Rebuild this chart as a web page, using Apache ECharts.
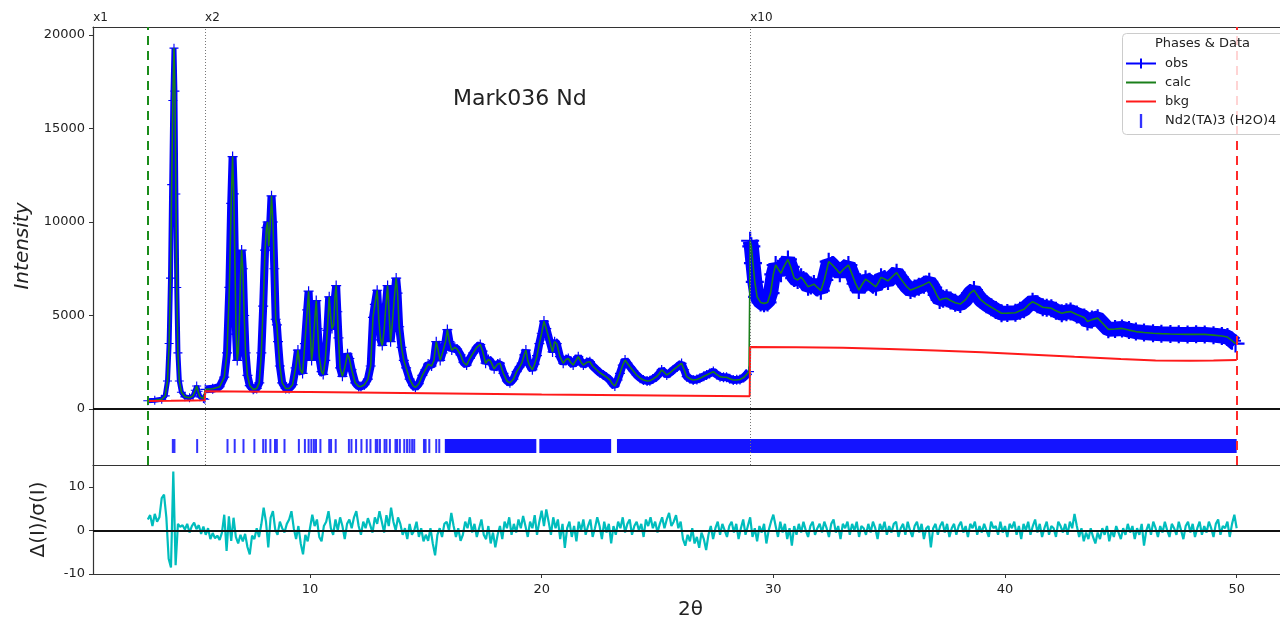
<!DOCTYPE html>
<html>
<head>
<meta charset="utf-8">
<script src="https://cdn.jsdelivr.net/npm/echarts@6/dist/echarts.min.js"></script>
<style>
html, body { margin: 0; padding: 0; background: #fff; overflow: hidden; }
#main { width: 1280px; height: 621px; }
</style>
</head>
<body>
<div id="main"></div>
<script>
// profile, intensities already multiplied (x1 / x2 / x10)
var obsPts = [
    [3.00,440],[3.30,470],[3.60,520],[3.75,700],[3.85,1500],[3.92,3500],[3.98,7000],[4.03,12000],[4.08,16500],[4.13,19300],
    [4.17,17000],[4.21,11500],[4.25,6500],[4.30,3000],[4.36,1500],[4.45,900],[4.60,650],[4.80,600],[4.95,700],[5.05,1000],
    [5.11,1230],[5.17,950],[5.25,650],[5.40,560],[5.46,520],
    [5.48,1050],[5.80,1080],[6.10,1190],[6.30,1700],[6.42,3000],[6.52,6500],[6.60,11000],[6.66,13500],[6.71,11500],[6.76,7800],
    [6.81,4000],[6.86,2600],[6.90,3000],[6.95,4500],[7.00,7000],[7.05,8500],[7.10,7500],[7.16,5000],[7.22,3000],[7.30,1800],
    [7.40,1250],[7.55,1050],[7.70,1100],[7.81,1400],[7.90,3000],[7.98,5500],[8.06,8500],[8.12,9700],[8.17,10000],[8.22,8700],
    [8.28,9800],[8.34,11400],[8.40,10000],[8.46,7500],[8.52,4800],[8.57,4500],[8.62,3600],[8.70,2300],[8.80,1400],[8.95,1100],
    [9.10,1100],[9.25,1300],[9.38,2200],[9.48,3150],[9.58,2100],[9.68,1900],[9.78,3500],[9.88,5300],[9.94,6300],[10.00,4500],
    [10.07,2600],[10.13,3300],[10.19,4500],[10.27,5800],[10.33,4300],[10.40,2800],[10.50,2000],[10.57,1850],[10.66,2600],[10.75,4200],
    [10.83,6000],[10.89,5000],[10.95,4300],[11.02,4500],[11.08,6000],[11.13,6600],[11.18,5200],[11.23,3800],[11.30,2200],[11.40,1750],
    [11.50,2200],[11.62,2950],[11.70,2700],[11.80,2100],[11.95,1400],[12.10,1200],[12.20,1200],[12.35,1300],[12.50,1600],[12.62,2300],
    [12.72,4900],[12.80,5600],[12.90,6350],[12.97,4800],[13.05,3700],[13.12,3400],[13.20,4200],[13.28,5600],[13.35,6600],[13.42,5000],
    [13.48,3600],[13.55,4500],[13.63,5800],[13.72,7000],[13.78,6200],[13.85,4400],[13.95,3300],[14.05,2600],[14.15,2200],[14.30,1600],
    [14.45,1250],[14.55,1150],[14.70,1350],[14.85,1800],[14.98,2100],[15.10,2400],[15.25,2300],[15.35,2600],[15.45,3600],[15.52,3200],
    [15.62,2600],[15.72,3000],[15.85,3600],[15.93,4250],[16.02,3600],[16.12,3150],[16.25,3300],[16.35,3200],[16.50,2900],[16.62,2500],
    [16.76,2350],[16.90,2700],[17.05,3000],[17.20,3300],[17.35,3450],[17.45,3100],[17.58,2450],[17.70,2650],[17.80,2550],[17.95,2150],
    [18.10,2400],[18.20,2450],[18.35,1900],[18.50,1500],[18.63,1400],[18.78,1600],[18.92,2000],[19.05,2250],[19.14,2450],[19.25,2900],
    [19.32,3150],[19.40,2600],[19.47,2350],[19.60,2100],[19.70,2400],[19.80,2850],[19.90,3500],[20.00,4050],[20.10,4700],[20.20,4300],
    [20.33,3700],[20.47,3050],[20.56,3600],[20.65,3500],[20.79,2800],[20.93,2450],[21.05,2650],[21.15,2700],[21.25,2500],[21.36,2350],
    [21.48,2600],[21.58,2800],[21.70,2500],[21.80,2350],[21.95,2500],[22.08,2530],[22.20,2300],[22.37,2100],[22.50,1950],[22.66,1820],
    [22.80,1700],[22.95,1550],[23.05,1350],[23.16,1230],[23.28,1550],[23.38,1910],[23.50,2350],[23.60,2620],[23.70,2450],[23.81,2260],
    [23.95,2050],[24.10,1820],[24.25,1650],[24.39,1550],[24.55,1500],[24.67,1510],[24.80,1600],[24.96,1730],[25.08,1900],[25.18,2090],
    [25.30,1950],[25.40,1820],[25.55,1950],[25.68,2090],[25.85,2250],[26.04,2440],[26.15,2100],[26.26,1730],[26.40,1620],[26.54,1550],
    [26.70,1580],[26.83,1640],[27.00,1750],[27.12,1820],[27.25,1900],[27.41,2000],[27.55,1850],[27.70,1730],[27.85,1700],[27.98,1700],
    [28.12,1620],[28.27,1550],[28.42,1560],[28.56,1580],[28.72,1680],[28.85,1850],[28.95,2000],
    [29.00,9000],[29.05,8700],[29.12,7800],[29.20,6800],[29.30,6000],[29.45,5700],[29.60,5650],[29.75,5700],[29.88,6200],[30.00,7200],
    [30.10,7700],[30.20,7500],[30.33,7260],[30.45,7600],[30.63,8000],[30.75,7600],[30.90,7000],[31.05,6900],[31.20,7050],[31.30,6900],
    [31.50,6540],[31.62,6600],[31.75,6680],[31.90,6500],[32.05,6330],[32.20,6900],[32.39,7880],[32.55,7700],[32.70,7500],[32.87,7260],
    [33.05,7500],[33.24,7700],[33.40,7200],[33.55,6700],[33.69,6360],[33.85,6700],[33.98,6940],[34.15,6800],[34.30,6650],[34.43,6540],
    [34.55,6800],[34.65,7040],[34.80,6950],[34.95,6850],[35.15,7100],[35.32,7290],[35.45,7050],[35.60,6800],[35.75,6550],[35.92,6360],
    [36.10,6450],[36.28,6540],[36.50,6650],[36.73,6800],[36.90,6500],[37.05,6100],[37.18,5830],[37.33,5900],[37.48,5920],[37.65,5800],
    [37.85,5680],[38.07,5615],[38.30,5850],[38.50,6200],[38.66,6360],[38.80,6100],[38.96,5830],[39.20,5600],[39.41,5440],[39.60,5300],
    [39.85,5120],[40.10,5130],[40.45,5150],[40.65,5250],[40.82,5330],[41.00,5550],[41.19,5740],[41.40,5600],[41.63,5440],[41.80,5420],
    [42.00,5390],[42.20,5250],[42.45,5120],[42.65,5180],[42.83,5210],[43.10,5050],[43.42,4900],[43.56,4680],[43.75,4780],[44.00,4860],
    [44.20,4600],[44.46,4260],[44.75,4280],[45.05,4310],[45.35,4220],[45.65,4140],[46.00,4090],[46.39,4050],[46.75,4030],[47.14,4010],
    [47.50,4000],[47.88,3990],[48.25,4000],[48.62,3990],[49.00,3950],[49.36,3900],[49.60,3850],[49.80,3650],[49.95,3500]
];
var bkgPts = [
    [3.00,430],[4.00,440],[5.00,460],[5.46,470],[5.48,950],[8.00,920],[10.00,905],[15.00,845],[20.00,780],[25.00,725],
    [28.98,680],[29.00,3310],[31.00,3300],[33.00,3270],[35.00,3210],[37.00,3130],[39.00,3040],[41.00,2920],[43.00,2790],
    [45.00,2670],[46.50,2600],[48.00,2580],[49.00,2590],[50.00,2620]
];
// Nd2(TA)3 (H2O)4 reflection positions; dense stretches given as solid ranges
var reflPos = [4.08,4.15,5.13,6.44,6.75,7.13,7.60,7.98,8.09,8.29,8.49,8.57,8.90,9.52,9.78,9.94,10.06,10.17,10.26,10.45,
    10.83,10.91,11.11,11.68,11.79,11.99,12.22,12.45,12.61,12.84,12.91,13.02,13.22,13.30,13.45,13.69,13.76,13.88,14.07,14.19,
    14.30,14.41,14.50,14.92,14.99,15.15,15.45,15.58];
var reflBands = [[15.82,19.77],[19.90,23.00],[23.25,50.00]];
var reflRow = -1980;
// difference curve sampled every 0.1 deg from 3.0
var diffStart = 3.0, diffStep = 0.1;
var diffVals = [
    2.5,3.5,1.0,3.8,2.0,3.0, 7.4,8.2,3.0,-6.5,-8.5,13.5,-8.0,1.5,0.8,
    1.2,0.2,1.5,-0.5,1.0,1.8,0.3,1.2,-0.8,0.9,
    -1.0,0.5,-2.0,-0.6,-1.8,-1.2,-2.2,-0.5, 3.6,-4.7,3.2,-2.4,2.9,-1.5,-3.0,-1.0,
    -2.5,-0.8,-3.8,-5.5,-1.2,-2.0,0.5,-1.5,1.4,5.2,
    2.0,-3.9,2.9,4.4,0.2,-1.0,2.0,0.5,-0.5,1.5,
    2.5,4.4,0.5,-2.0,1.0,-3.0,-5.5,-1.0,-2.5,0.5,
    3.6,1.0,2.5,-1.5,-2.5,1.0,2.0,4.4,0.5,-1.0,
    2.5,0.0,3.0,1.0,-2.0,1.5,2.5,0.5,3.0,4.4,
    1.0,-1.0,2.0,0.5,2.8,1.2,-0.5,3.0,1.5,4.4,
    2.0,-0.5,3.5,1.0,5.2,2.0,0.0,3.0,1.5,-1.0,
    0.5,-2.0,1.5,-1.0,0.0,2.0,-1.5,0.5,-2.5,-1.0,
    -2.4,0.5,-3.0,-5.7,-1.0,0.5,-1.5,1.5,2.0,0.0,
    4.0,1.0,-1.5,0.5,-2.4,-1.0,2.0,0.5,3.0,-0.5,
    1.5,-1.5,0.5,2.5,-1.0,-2.0,1.0,-3.0,-0.5,-3.9,
    -1.0,1.0,-2.0,2.0,0.5,3.0,-1.0,1.5,-0.5,2.5,
    0.5,3.3,1.0,-1.5,2.0,0.5,3.5,-1.0,2.0,4.5,
    1.0,4.8,2.0,-1.0,3.0,0.5,2.5,-2.0,1.5,-4.0,
    0.5,2.0,-1.5,1.0,-2.5,2.0,0.0,2.5,-1.0,1.0,
    2.5,-1.5,0.5,3.0,1.0,-2.0,2.0,-0.5,1.5,-3.0,
    1.0,-1.0,2.0,0.5,3.0,-0.5,1.5,2.5,-1.0,1.0,
    2.0,0.0,1.5,-1.5,2.5,1.0,3.0,0.5,2.0,-0.5,
    1.5,3.0,0.5,2.5,4.0,1.0,2.0,3.5,0.5,2.0,
    -2.0,-3.5,-1.0,-2.5,0.5,-3.0,-1.5,-4.0,-0.5,-2.0,
    -4.5,-1.0,1.0,-2.0,0.5,2.0,-1.0,1.5,0.0,-1.5,
    1.0,2.0,-0.5,1.5,-2.0,0.5,2.5,-1.0,1.0,3.0,
    -1.5,0.5,-2.5,1.0,-0.5,1.5,-3.0,0.0,2.0,3.6,
    1.0,-1.5,2.0,-0.5,1.5,-2.0,0.5,-3.5,1.0,-1.0,
    1.5,-0.5,2.0,0.0,-1.5,1.0,2.0,-1.0,0.5,1.5,
    -0.5,2.0,0.5,-1.5,1.5,2.5,-0.5,1.0,-2.0,1.5,
    0.5,2.0,-1.0,1.5,0.0,2.0,-1.5,1.0,0.5,-1.0,
    1.5,-0.5,2.0,0.5,-2.0,1.5,0.0,2.0,-1.0,1.0,
    -0.5,1.5,2.0,-1.5,0.5,1.5,-1.0,2.0,0.0,-1.5,
    1.0,2.0,-0.5,1.5,-2.0,0.5,1.0,-3.9,0.5,1.5,
    -1.0,1.0,2.0,-0.5,1.5,-1.5,0.5,1.5,-1.0,1.0,
    2.0,-0.5,1.0,-1.5,1.5,0.5,2.0,-1.0,1.0,-0.5,
    1.5,0.0,-1.5,2.0,0.5,1.0,-1.0,2.0,-0.5,1.0,
    -1.5,1.5,0.5,2.0,-1.0,1.0,-2.0,1.5,0.0,2.0,
    -1.0,1.0,2.5,-0.5,1.5,-1.5,0.5,2.0,-1.0,1.0,
    0.5,-1.5,2.0,1.0,-0.5,1.5,-1.0,2.0,0.5,3.8,
    1.0,-1.5,0.5,-2.5,-0.5,-2.0,0.5,-1.5,-3.0,-0.5,
    -2.0,0.5,-1.0,1.0,-2.5,0.0,-1.5,1.0,-0.5,-2.0,
    0.5,-1.0,1.5,-0.5,1.0,-2.0,0.5,-1.0,1.5,-3.5,
    0.0,1.5,-1.0,2.0,0.5,-1.5,1.0,-0.5,2.0,0.0,
    -1.5,1.5,0.5,-1.0,2.0,0.0,-2.0,1.0,2.0,-0.5,
    1.5,-1.5,0.5,2.0,-1.0,1.0,-0.5,2.0,0.5,-1.5,
    1.5,2.5,-1.0,1.0,0.5,2.0,-1.5,1.5,3.6,0.5
];
var lowLimit = 3.0, highLimit = 50.0;
var scaleBreaks = [5.47, 29.0];
var scaleLabels = ['x1', 'x2', 'x10'];
var xMin = 0.634, xMax = 51.87;
var yTicks = [0, 5000, 10000, 15000, 20000];
var diffTicks = [-10, 0, 10];
var xTicks = [10, 20, 30, 40, 50];

var diffPts = [];
for (var i = 0; i < diffVals.length; i++) {
    diffPts.push([+(diffStart + i * diffStep).toFixed(2), diffVals[i]]);
}
var obs1 = obsPts.filter(function (p) { return p[0] < scaleBreaks[0]; });
var obs2 = obsPts.filter(function (p) { return p[0] > scaleBreaks[0] && p[0] < scaleBreaks[1]; });
var obs3 = obsPts.filter(function (p) { return p[0] >= scaleBreaks[1]; });
var reflData = reflPos.map(function (t) { return [t, reflRow]; });

var plus = 'path://M4.4,0h1.2v4.4h4.4v1.2h-4.4v4.4h-1.2v-4.4h-4.4v-1.2h4.4z';
var font = 'DejaVu Sans';
var frame = { show: true, onZero: false, lineStyle: { color: '#333', width: 1.2 } };
var plain = function (v) { return String(v); };
var breakLabel = function (text) {
    return { show: true, position: 'end', formatter: text, align: 'left', distance: 3,
             color: '#222', fontSize: 12, fontFamily: font };
};

var myChart = echarts.init(document.getElementById('main'));
var option = {
    animation: false,
    textStyle: { fontFamily: font },
    // plot frame is cropped on the right, so only left / top / bottom edges are drawn
    grid: [
        { left: 93, top: 27, right: 0, height: 438 },
        { left: 93, top: 465, right: 0, height: 109 }
    ],
    xAxis: [
        { type: 'value', gridIndex: 0, position: 'top', min: xMin, max: xMax,
          axisLine: frame, axisTick: { show: false }, axisLabel: { show: false }, splitLine: { show: false } },
        { type: 'value', gridIndex: 1, position: 'bottom', min: xMin, max: xMax,
          axisLine: frame,
          axisTick: { show: true, customValues: xTicks, length: 4, lineStyle: { color: '#333' } },
          axisLabel: { customValues: xTicks, formatter: plain, fontSize: 13, color: '#222', margin: 9, fontFamily: font },
          splitLine: { show: false },
          name: '2θ', nameLocation: 'middle', nameGap: 26,
          nameTextStyle: { fontSize: 20, color: '#222', fontFamily: font, padding: [0, 0, 0, 8] } },
        { type: 'value', gridIndex: 1, position: 'top', min: xMin, max: xMax,
          axisLine: frame, axisTick: { show: false }, axisLabel: { show: false }, splitLine: { show: false } }
    ],
    yAxis: [
        { type: 'value', gridIndex: 0, min: -2995, max: 20430,
          axisLine: frame,
          axisTick: { show: true, customValues: yTicks, length: 4, lineStyle: { color: '#333' } },
          axisLabel: { customValues: yTicks, formatter: plain, fontSize: 13, color: '#222', margin: 8, fontFamily: font },
          splitLine: { show: false },
          name: 'Intensity', nameLocation: 'middle', nameGap: 56,
          nameTextStyle: { fontSize: 20, fontStyle: 'italic', color: '#222', fontFamily: font } },
        { type: 'value', gridIndex: 1, min: -10, max: 15,
          axisLine: frame,
          axisTick: { show: true, customValues: diffTicks, length: 4, lineStyle: { color: '#333' } },
          axisLabel: { customValues: diffTicks, formatter: plain, fontSize: 13, color: '#222', margin: 8, fontFamily: font },
          splitLine: { show: false },
          name: 'Δ(I)/σ(I)', nameLocation: 'middle', nameGap: 44,
          nameTextStyle: { fontSize: 20, color: '#222', fontFamily: font } }
    ],
    legend: {
        orient: 'vertical', left: 1126, top: 57, padding: 0,
        itemWidth: 30, itemHeight: 14, itemGap: 6, selectedMode: false, z: 12,
        textStyle: { fontSize: 13, color: '#222', fontFamily: font, padding: [0, 0, 0, 4] },
        data: [
            { name: 'obs', icon: 'path://M0,6h30v2h-30z M14,2h2v10h-2z', itemStyle: { color: '#0000ff' } },
            { name: 'calc', icon: 'path://M0,6h30v2h-30z', itemStyle: { color: '#1a7f1a' } },
            { name: 'bkg', icon: 'path://M0,6h30v2h-30z', itemStyle: { color: '#ff1a1a' } },
            { name: 'Nd2(TA)3 (H2O)4', icon: 'path://M0,0h2v12h-2z' }
        ]
    },
    graphic: [
        { type: 'rect', left: 1122, top: 33, z: 10,
          shape: { width: 200, height: 101, r: 4 },
          style: { fill: 'rgba(255,255,255,0.8)', stroke: '#ccc', lineWidth: 1 } },
        { type: 'text', left: 1155, top: 37, z: 11,
          style: { text: 'Phases & Data', fontSize: 13, fill: '#222', fontFamily: font } },
        { type: 'text', left: 453, top: 88, z: 11,
          style: { text: 'Mark036 Nd', fontSize: 22, fill: '#222', fontFamily: font } }
    ],
    series: [
        { name: 'obs', type: 'line', xAxisIndex: 0, yAxisIndex: 0, data: obs1, z: 2,
          symbol: plus, symbolSize: 9, showAllSymbol: true,
          itemStyle: { color: '#0000ff' }, lineStyle: { color: '#0000ff', width: 5 } },
        { name: 'obs', type: 'line', xAxisIndex: 0, yAxisIndex: 0, data: obs2, z: 2,
          symbol: plus, symbolSize: 10, showAllSymbol: true,
          itemStyle: { color: '#0000ff' }, lineStyle: { color: '#0000ff', width: 8 } },
        { name: 'obs', type: 'line', xAxisIndex: 0, yAxisIndex: 0, data: obs3, z: 2,
          symbol: plus, symbolSize: 18, showAllSymbol: true,
          itemStyle: { color: '#0000ff' }, lineStyle: { color: '#0000ff', width: 15 } },
        { name: 'calc', type: 'line', xAxisIndex: 0, yAxisIndex: 0, data: obsPts, z: 3,
          symbol: 'none', lineStyle: { color: '#1a7f1a', width: 1.6 }, itemStyle: { color: '#1a7f1a' } },
        { name: 'bkg', type: 'line', xAxisIndex: 0, yAxisIndex: 0, data: bkgPts, z: 4,
          symbol: 'none', lineStyle: { color: '#ff1a1a', width: 2 }, itemStyle: { color: '#ff1a1a' },
          markLine: {
              silent: true, symbol: ['none', 'none'], label: { show: false },
              data: [
                  { yAxis: 0, lineStyle: { color: '#111', width: 2, type: 'solid' } },
                  { xAxis: lowLimit, lineStyle: { color: '#1a8c1a', width: 2, type: [9, 6] } },
                  { xAxis: highLimit, lineStyle: { color: '#ff2a2a', width: 2, type: [9, 6] } },
                  { xAxis: xMin + 0.01, lineStyle: { color: 'rgba(0,0,0,0)', width: 0 }, label: breakLabel(scaleLabels[0]) },
                  { xAxis: scaleBreaks[0], lineStyle: { color: '#777', width: 1, type: [1, 2] }, label: breakLabel(scaleLabels[1]) },
                  { xAxis: scaleBreaks[1], lineStyle: { color: '#777', width: 1, type: [1, 2] }, label: breakLabel(scaleLabels[2]) }
              ]
          } },
        { name: 'Nd2(TA)3 (H2O)4', type: 'scatter', xAxisIndex: 0, yAxisIndex: 0, data: reflData, z: 3,
          symbol: 'rect', symbolSize: [2, 14], itemStyle: { color: '#0000ff' } },
        { name: 'Nd2(TA)3 (H2O)4', type: 'custom', xAxisIndex: 0, yAxisIndex: 0, data: reflBands, z: 3,
          encode: { x: [0, 1] },
          itemStyle: { color: '#0000ff' },
          renderItem: function (params, api) {
              var a = api.coord([api.value(0), reflRow]);
              var b = api.coord([api.value(1), reflRow]);
              return { type: 'rect', shape: { x: a[0], y: a[1] - 7, width: b[0] - a[0], height: 14 },
                       style: { fill: '#1414ff' } };
          } },
        { name: 'diff', type: 'line', xAxisIndex: 1, yAxisIndex: 1, data: diffPts, z: 2,
          symbol: 'none', lineStyle: { color: '#00bdbd', width: 2.2 },
          markLine: {
              silent: true, symbol: ['none', 'none'], label: { show: false },
              data: [{ yAxis: 0, lineStyle: { color: '#111', width: 2, type: 'solid' } }]
          } }
    ]
};
if (option && typeof option === "object") {
    myChart.setOption(option, true);
}
</script>
</body>
</html>
